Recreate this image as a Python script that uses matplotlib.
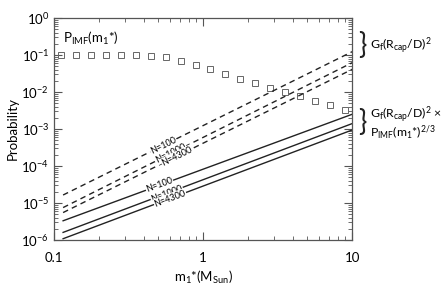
import numpy as np
import matplotlib
matplotlib.use('Agg')
import matplotlib.pyplot as plt
from matplotlib.ticker import LogLocator, FixedLocator, FixedFormatter, NullFormatter

plt.rcParams['font.family'] = ['Lato', 'DejaVu Sans']
plt.rcParams['mathtext.default'] = 'regular'
plt.rcParams['axes.unicode_minus'] = False

# IMF probability per mass bin (squares)
m_sq = [0.112, 0.141, 0.178, 0.224, 0.282, 0.355, 0.447, 0.562, 0.708, 0.891,
        1.12, 1.41, 1.78, 2.24, 2.82, 3.55, 4.47, 5.62, 7.08, 8.91]
p_sq = [0.1, 0.1, 0.1, 0.1, 0.1, 0.1, 0.094, 0.09, 0.07, 0.054,
        0.041, 0.031, 0.023, 0.017, 0.013, 0.010, 0.0076, 0.0058, 0.0044, 0.0033]

# line end points (mass, probability)
m_line = [0.115, 10.0]
gf_100 = [1.64e-5, 0.123]
gf_1000 = [7.5e-6, 0.062]
gf_4300 = [5.5e-6, 0.041]
gp_100 = [3.3e-6, 2.5e-3]
gp_1000 = [1.6e-6, 1.4e-3]
gp_4300 = [1.08e-6, 9.4e-4]

fig = plt.figure(figsize=(4.43, 2.86), dpi=100)
ax = fig.add_axes([0.122, 0.161, 0.673, 0.776])

ax.plot(m_sq, p_sq, ls='none', marker='s', ms=4.0, mfc='none', mec='#666666', mew=0.7)

dash = (0, (4, 3))
lines = [(gf_100, dash, 'N=100'), (gf_1000, dash, 'N=1000'), (gf_4300, dash, 'N=4300'),
         (gp_100, '-', 'N=100'), (gp_1000, '-', 'N=1000'), (gp_4300, '-', 'N=4300')]
lab_x = [0.54, 0.61, 0.67, 0.51, 0.57, 0.6]

ax.set_xscale('log')
ax.set_yscale('log')
ax.set_xlim(0.1, 10)
ax.set_ylim(1e-6, 1)

for (yy, st, lab), lx in zip(lines, lab_x):
    ax.plot(m_line, yy, color='#222222', lw=1.0, ls=st)
    # slope in log space -> label position on the line
    k = np.log10(yy[1] / yy[0]) / np.log10(m_line[1] / m_line[0])
    ly = yy[0] * (lx / m_line[0]) ** k
    p1 = ax.transData.transform((m_line[0], yy[0]))
    p2 = ax.transData.transform((m_line[1], yy[1]))
    ang = np.degrees(np.arctan2(p2[1] - p1[1], p2[0] - p1[0]))
    ax.text(lx, ly, lab, fontsize=6.5, rotation=ang, ha='center', va='center',
            rotation_mode='anchor', color='black',
            bbox=dict(boxstyle='square,pad=0.05', fc='white', ec='none'))

ax.xaxis.set_major_locator(FixedLocator([0.1, 1, 10]))
ax.xaxis.set_major_formatter(FixedFormatter(['0.1', '1', '10']))
ax.xaxis.set_minor_locator(LogLocator(base=10, subs=np.arange(2, 10)))
ax.xaxis.set_minor_formatter(NullFormatter())
ax.yaxis.set_major_locator(LogLocator(base=10, numticks=10))
ax.yaxis.set_minor_locator(LogLocator(base=10, subs=np.arange(2, 10), numticks=10))
ax.yaxis.set_minor_formatter(NullFormatter())

ax.tick_params(which='both', direction='in', top=True, right=True, colors='#555555',
               labelcolor='black', labelsize=9.5)
ax.tick_params(which='major', length=6, width=0.8)
ax.tick_params(which='minor', length=3, width=0.6)
ax.tick_params(axis='x', pad=9)
for s in ax.spines.values():
    s.set_color('#555555')
    s.set_linewidth(0.9)

ax.set_xlabel('m$_1$*(M$_{Sun}$)', fontsize=9.5, labelpad=3)
ax.set_ylabel('Probability', fontsize=9.5, labelpad=2)

ax.text(0.115, 0.16, 'P$_{IMF}$(m$_1$*)', fontsize=9.5, ha='left', va='bottom')

fig.text(0.808, 0.842, '}', fontsize=20, ha='left', va='center', color='#222222')
fig.text(0.836, 0.842, 'G$_f$(R$_{cap}$/D)$^2$', fontsize=8.8, ha='left', va='center')
fig.text(0.808, 0.572, '}', fontsize=20, ha='left', va='center', color='#222222')
fig.text(0.836, 0.600, 'G$_f$(R$_{cap}$/D)$^2$ \u00d7', fontsize=8.8, ha='left', va='center')
fig.text(0.836, 0.538, 'P$_{IMF}$(m$_1$*)$^{2/3}$', fontsize=8.8, ha='left', va='center')

fig.savefig('out.png', dpi=100)
